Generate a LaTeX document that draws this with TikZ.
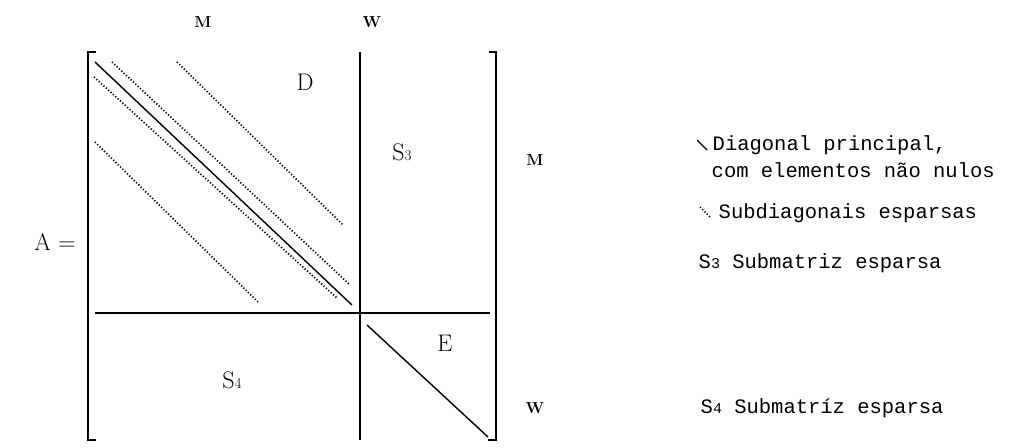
\documentclass[tikz,border=0pt]{standalone}
\usepackage{fontspec}
\newfontfamily\typewriter{Liberation Mono}
\newcommand{\MatTop}{52}
\newcommand{\MatBot}{440}
\newcommand{\MatLeft}{88}
\newcommand{\MatRight}{496}
\newcommand{\SplitX}{360}
\newcommand{\SplitY}{313}
\newcommand{\blockidx}[1]{{\fontsize{15}{15}\selectfont #1}}

\begin{document}
\begin{tikzpicture}[x=1pt, y=-1pt, line width=1.4pt,
    subdiag/.style={line width=1.7pt, dash pattern=on 1.2pt off 2pt},
    blocklabel/.style={font=\fontsize{24}{26}\selectfont},
    dimlabel/.style={font=\bfseries\fontsize{16}{18}\selectfont},
    legendtext/.style={anchor=west, inner sep=0pt, font=\typewriter\fontsize{20.5}{22}\selectfont}]
    \useasboundingbox (0,0) rectangle (1009,447);

    % frame of the matrix
    \coordinate (tl) at (\MatLeft,\MatTop);
    \coordinate (bl) at (\MatLeft,\MatBot);
    \coordinate (tr) at (\MatRight,\MatTop);
    \coordinate (br) at (\MatRight,\MatBot);
    \coordinate (mt) at (\SplitX,\MatTop);
    \coordinate (mb) at (\SplitX,\MatBot);
    \coordinate (hl) at (95,\SplitY);
    \coordinate (hr) at (490,\SplitY);

    \draw ([xshift=8pt]tl) -- (tl) -- (bl) -- ([xshift=8pt]bl);
    \draw ([xshift=-7pt]tr) -- (tr) -- (br) -- ([xshift=-8pt]br);
    \draw (mt) -- (mb);
    \draw (hl) -- (hr);

    % main diagonal of D and of E
    \draw (95,62) -- (352,305);
    \draw (367,325) -- (488,437);

    % sparse subdiagonals
    \foreach \xa/\ya/\xb/\yb in {112/62/350/285, 94/77/337/298, 177/62/343/225, 95/142/258/302}{
        \draw[subdiag] (\xa,\ya) -- (\xb,\yb);
    }

    % block and dimension labels
    \node[dimlabel] (colM) at (203,22) {M};
    \node[dimlabel] (colW) at (372,22) {W};
    \node[dimlabel] (rowM) at (535,160) {M};
    \node[dimlabel] (rowW) at (535,408) {W};
    \node[blocklabel] (A) at (55,242) {A =};
    \node[blocklabel] (D) at (305,82) {D};
    \node[blocklabel] (S3) at (402,152) {S\blockidx{3}};
    \node[blocklabel] (S4) at (232,380) {S\blockidx{4}};
    \node[blocklabel] (E) at (445,343) {E};

    % legend
    \draw (697,140) -- (707,150);
    \node[legendtext] (keyDiag) at (712,145) {Diagonal principal,};
    \node[legendtext] (keyDiagB) at (711,170) {com elementos não nulos};
    \draw[subdiag] (700,207) -- (710,217);
    \node[legendtext] (keySub) at (718,213) {Subdiagonais esparsas};
    \node[legendtext] (keyS3) at (698,263) {S\blockidx{3} Submatriz esparsa};
    \node[legendtext] (keyS4) at (700,408) {S\blockidx{4} Submatríz esparsa};
\end{tikzpicture}
\end{document}
